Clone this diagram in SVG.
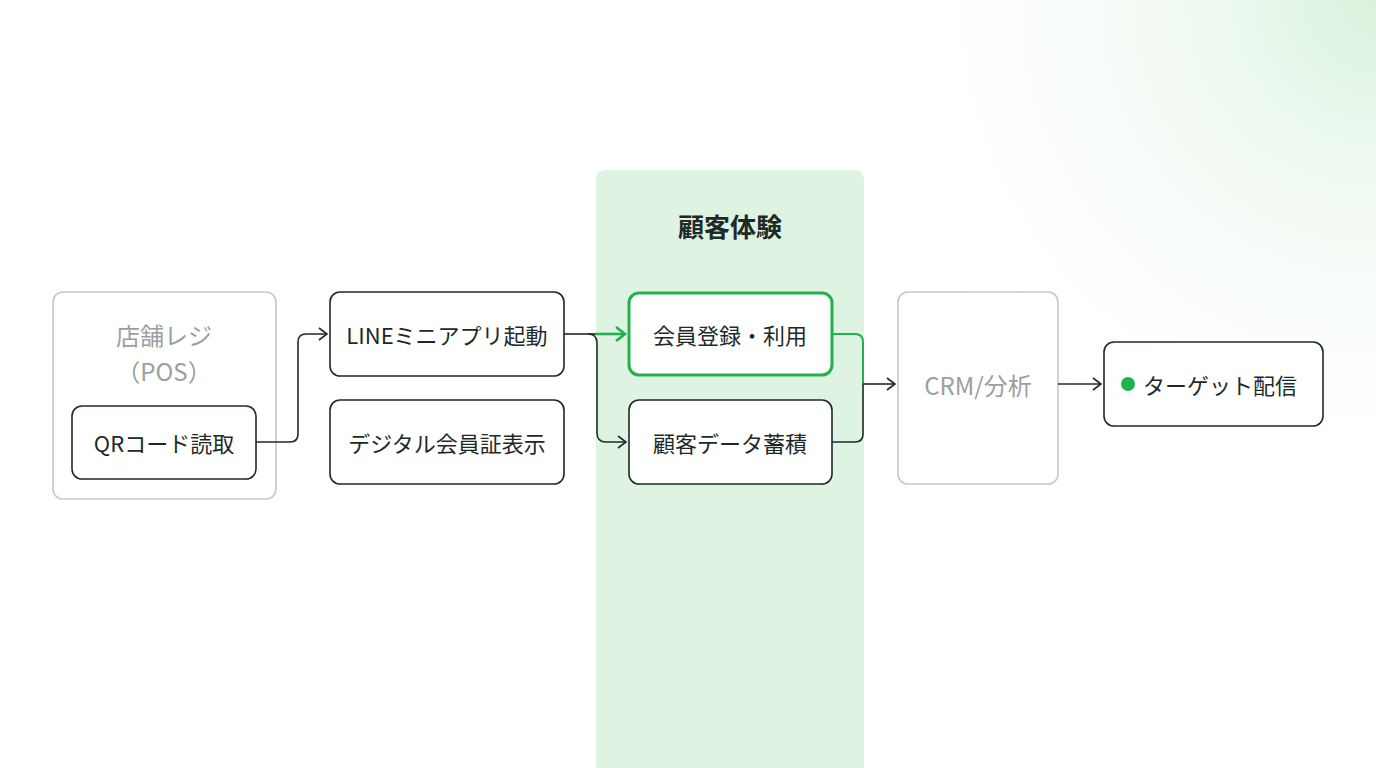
<svg xmlns="http://www.w3.org/2000/svg" width="1376" height="768" viewBox="0 0 1376 768">
<defs>
<radialGradient id="bg" cx="1376" cy="0" r="520" gradientUnits="userSpaceOnUse">
<stop offset="0" stop-color="#d9f2dd"/><stop offset="1" stop-color="#ffffff" stop-opacity="0"/>
</radialGradient>
<marker id="ah" markerWidth="12" markerHeight="14" refX="10" refY="7" orient="auto" markerUnits="userSpaceOnUse"><path d="M2,1 L10,7 L2,13" fill="none" stroke="#1e2a28" stroke-width="1.6"/></marker>
<marker id="ahg" markerWidth="14" markerHeight="16" refX="11" refY="8" orient="auto" markerUnits="userSpaceOnUse"><path d="M2,1 L11,8 L2,15" fill="none" stroke="#22b14c" stroke-width="2.6"/></marker>
</defs>
<style>
.t{font-family:"Noto Sans CJK JP","Noto Sans",sans-serif;font-size:22px;fill:#1e2a28;text-anchor:middle;dominant-baseline:central}
.g{fill:#9aa0a0}
.box{fill:#fff;stroke:#1e2a28;stroke-width:1.6}
.gbox{fill:none;stroke:#c8c8c8;stroke-width:1.6}
.c{fill:none;stroke:#1e2a28;stroke-width:1.6}
</style>
<rect width="1376" height="768" fill="#fff"/>
<rect width="1376" height="768" fill="url(#bg)"/>
<g id="band"><path d="M596,180 Q596,170 606,170 H854 Q864,170 864,180 V768 H596 Z" fill="#dff3e2"/>
<text class="t" x="730" y="225" style="font-size:26px;font-weight:bold">顧客体験</text></g>
<g id="pos"><rect class="gbox" x="53" y="292" width="223" height="207" rx="10"/>
<text class="t g" x="164" y="334" style="font-size:24px">店舗レジ</text>
<text class="t g" x="164" y="370" style="font-size:24px">（POS）</text></g>
<g id="qr"><rect class="box" x="72" y="406" width="184" height="73" rx="10"/><text class="t" x="164" y="442">QRコード読取</text></g>
<g id="line"><rect class="box" x="330" y="292" width="234" height="84" rx="10"/><text class="t" x="447" y="334">LINEミニアプリ起動</text></g>
<g id="card"><rect class="box" x="330" y="400" width="234" height="84" rx="10"/><text class="t" x="447" y="442">デジタル会員証表示</text></g>
<g id="member"><rect x="629" y="293" width="203" height="82" rx="10" fill="#fff" stroke="#22b14c" stroke-width="3"/><text class="t" x="730" y="334">会員登録・利用</text></g>
<g id="data"><rect class="box" x="629" y="400" width="203" height="84" rx="10"/><text class="t" x="730" y="442">顧客データ蓄積</text></g>
<g id="crm"><rect class="gbox" x="898" y="292" width="160" height="192" rx="10" fill="#fff"/><text class="t g" x="978" y="384" style="font-size:24px">CRM/分析</text></g>
<g id="target"><rect class="box" x="1104" y="342" width="219" height="84" rx="10"/><circle cx="1128" cy="384" r="7" fill="#22b14c"/><text class="t" x="1220" y="384">ターゲット配信</text></g>
<g id="connectors">
<path class="c" d="M256,442 H290 Q298,442 298,434 V342 Q298,334 306,334 H327" marker-end="url(#ah)"/>
<path class="c" d="M564,334 H596"/>
<path d="M596,334 H625" fill="none" stroke="#22b14c" stroke-width="2.6" marker-end="url(#ahg)"/>
<path class="c" d="M588,334 Q597,334 597,343 V433 Q597,442 606,442 H626" marker-end="url(#ah)"/>
<path d="M832,334 H855 Q863,334 863,342 V384" fill="none" stroke="#22b14c" stroke-width="2"/>
<path class="c" d="M832,442 H855 Q863,442 863,434 V384"/>
<path class="c" d="M863,384 H895" marker-end="url(#ah)"/>
<path class="c" d="M1058,384 H1101" marker-end="url(#ah)"/>
</g>
</svg>
